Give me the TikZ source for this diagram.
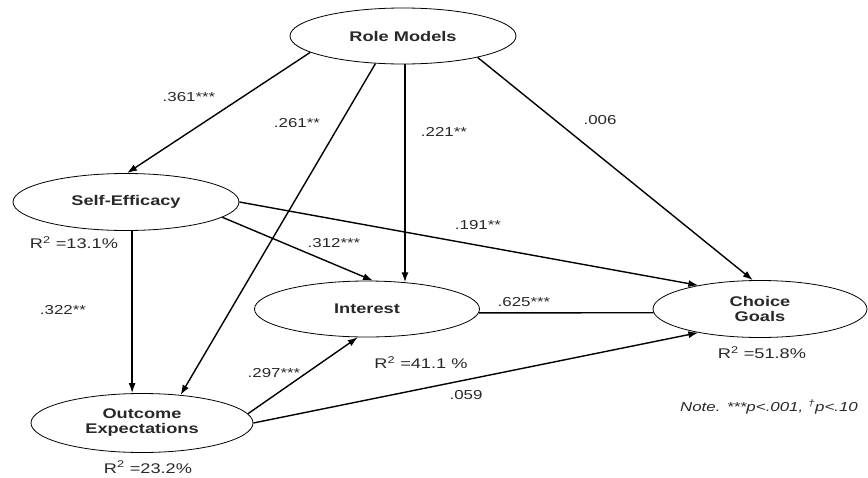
\documentclass[tikz,border=0pt]{standalone}
\usepackage{fontspec}
\setmainfont{Liberation Sans}[FakeStretch=1.3]
\usepackage{tikz}
\usetikzlibrary{shapes.geometric, arrows.meta, calc}
\definecolor{ink}{RGB}{40, 40, 40}

\begin{document}
\begin{tikzpicture}[x=1pt, y=-1pt, line width=1.4pt,
    latent/.style={ellipse, draw, line width=0.8pt, inner sep=0pt, align=center,
      font=\fontsize{14}{15}\selectfont\bfseries, text=ink},
    path/.style={-{Latex[length=10pt, width=7pt]}},
    coef/.style={font=\fontsize{13}{15}\selectfont, text=ink, inner sep=1pt},
    rsq/.style={font=\fontsize{14}{15}\selectfont, text=ink, inner sep=1pt}]

  \useasboundingbox (0, 0) rectangle (868, 477);

  % constructs
  \node[latent, minimum width=226pt, minimum height=56pt] (role) at (403, 36) {Role Models};
  \node[latent, minimum width=226pt, minimum height=57pt] (selfeff) at (126, 202) {Self-Efficacy};
  \node[latent, minimum width=225pt, minimum height=56pt] (interest) at (367, 309) {Interest};
  \node[latent, minimum width=214pt, minimum height=57pt] (choice) at (760, 309) {Choice\\Goals};
  \node[latent, minimum width=222pt, minimum height=59pt] (outcome) at (142, 423) {Outcome\\Expectations};

  % paths
  \draw[path] (role.190) -- (selfeff.88);
  \draw[path] (role.225) -- (outcome.36);
  \draw[path] (role.274) -- (role.274 |- interest.35);
  \draw[path] (role.344) -- (choice.104);
  \draw[path] (selfeff.282) -- (selfeff.282 |- outcome.north);
  \draw[path] (selfeff.351) -- (interest.78);
  \draw[path] (selfeff.east) -- (choice.159);
  \draw (interest.358) -- (choice.182);
  \draw[path] (outcome.5) -- (interest.252);
  \draw[path] (outcome.east) -- (choice.201);

  % coefficients
  \node[coef] (c361) at (189, 97) {.361***};
  \node[coef] (c261) at (297, 123) {.261**};
  \node[coef] (c221) at (444, 132) {.221**};
  \node[coef] (c006) at (600, 120) {.006};
  \node[coef] (c191) at (478, 225) {.191**};
  \node[coef] (c312) at (334, 243) {.312***};
  \node[coef] (c322) at (63, 310) {.322**};
  \node[coef] (c625) at (524, 302) {.625***};
  \node[coef] (c297) at (274, 373) {.297***};
  \node[coef] (c059) at (466, 395) {.059};

  % explained variance
  \node[rsq] (r131) at (74, 243) {R\textsuperscript{2} =13.1\%};
  \node[rsq] (r411) at (421, 363) {R\textsuperscript{2} =41.1 \%};
  \node[rsq] (r518) at (762, 353) {R\textsuperscript{2} =51.8\%};
  \node[rsq, anchor=base] (r232) at (148, 473) {R\textsuperscript{2} =23.2\%};

  \node[coef, font=\fontsize{13}{15}\selectfont\itshape] (note) at (769, 407)
    {Note. ***p<.001, \textsuperscript{†}p<.10};
\end{tikzpicture}
\end{document}
